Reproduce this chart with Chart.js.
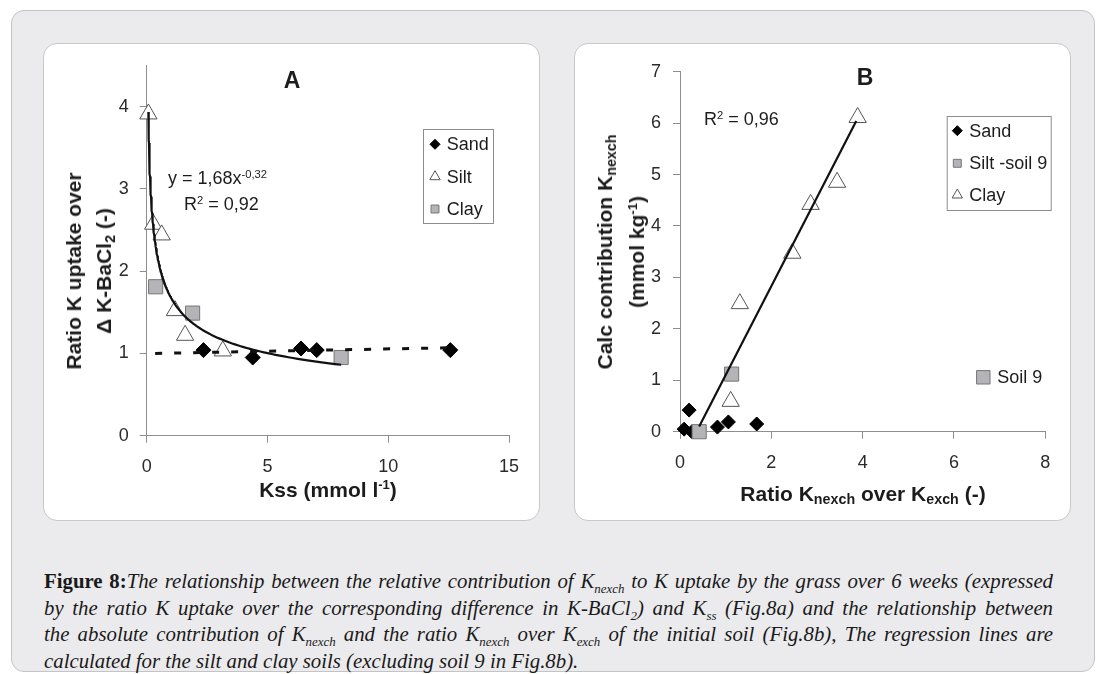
<!DOCTYPE html>
<html>
<head>
<meta charset="utf-8">
<script src="https://cdn.jsdelivr.net/npm/chart.js@4.4.1/dist/chart.umd.min.js"></script>
<style>
  html, body { margin: 0; padding: 0; background: #fff; }
  body { width: 1096px; height: 674px; position: relative; overflow: hidden;
         font-family: "Liberation Sans", Arial, sans-serif; color: #1c1c1c; }
  #card { position: absolute; left: 11px; top: 10px; width: 1084px; height: 662px; background: #ebebed;
          border: 1.5px solid #c4c4c6; border-radius: 13px; box-sizing: border-box; }
  .box { position: absolute; top: 43px; width: 497px; height: 478px; background: #fff;
         border: 1px solid #c8c8ca; border-radius: 14px; box-sizing: border-box; }
  #boxA { left: 43px; }
  #boxB { left: 574px; }
  canvas { position: absolute; top: 43px; }
  #chartA { left: 43px; }
  #chartB { left: 574px; }
  .t { position: absolute; white-space: nowrap; line-height: 1; transform: translate(-50%, -50%); }
  .tl { position: absolute; white-space: nowrap; line-height: 1; transform: translateY(-50%); font-size: 18px; }
  .title { font-weight: bold; font-size: 23px; }
  .xtitle { font-weight: bold; font-size: 21px; }
  .ytitle { position: absolute; white-space: nowrap; text-align: center; font-weight: bold; font-size: 21px;
            transform: translate(-50%, -50%) rotate(-90deg); }
  sup.s { font-size: 0.62em; vertical-align: 0.55em; line-height: 0; }
  sub.s { font-size: 0.68em; vertical-align: -0.25em; line-height: 0; }
  #caption { position: absolute; left: 44px; top: 568px; width: 1009px; color: #1a1a1a;
             font-family: "Liberation Serif", serif; font-style: italic; font-size: 20.8px; }
  #caption .cl { height: 26.7px; line-height: 26.7px; white-space: nowrap; text-align: justify; text-align-last: justify; }
  #caption .cl.last { text-align-last: left; }
  #caption b { font-style: normal; }
  #caption sub { font-size: 0.62em; vertical-align: -0.4em; line-height: 0; }
</style>
</head>
<body>
<div id="card"></div>
<div class="box" id="boxA"></div>
<div class="box" id="boxB"></div>
<canvas id="chartA" width="497" height="478"></canvas>
<canvas id="chartB" width="497" height="478"></canvas>

<!-- panel A text -->
<div class="t title" style="left:292px; top:80px;">A</div>
<div class="tl" style="left:168px; top:178px;">y = 1,68x<sup class="s">-0,32</sup></div>
<div class="tl" style="left:184px; top:204px;">R<sup class="s">2</sup> = 0,92</div>
<div class="t xtitle" style="left:328px; top:489px;">Kss (mmol l<sup class="s">-1</sup>)</div>
<div class="ytitle" style="left:89px; top:271px; line-height:30px;">Ratio K uptake over<br>Δ K-BaCl<sub class="s">2</sub> (-)</div>

<!-- panel B text -->
<div class="t title" style="left:865px; top:77px;">B</div>
<div class="tl" style="left:704px; top:119px;">R<sup class="s">2</sup> = 0,96</div>
<div class="t xtitle" style="left:863px; top:493px;">Ratio K<sub class="s">nexch</sub> over K<sub class="s">exch</sub> (-)</div>
<div class="ytitle" style="left:621px; top:252px; line-height:32px;">Calc contribution K<sub class="s">nexch</sub><br>(mmol kg<sup class="s">-1</sup>)</div>

<div id="caption">
  <div class="cl"><b>Figure 8:</b>The relationship between the relative contribution of K<sub>nexch</sub> to K uptake by the grass over 6 weeks (expressed</div>
  <div class="cl">by the ratio K uptake over the corresponding difference in K-BaCl<sub>2</sub>) and K<sub>ss</sub> (Fig.8a) and the relationship between</div>
  <div class="cl">the absolute contribution of K<sub>nexch</sub> and the ratio K<sub>nexch</sub> over K<sub>exch</sub> of the initial soil (Fig.8b), The regression lines are</div>
  <div class="cl last">calculated for the silt and clay soils (excluding soil 9 in Fig.8b).</div>
</div>

<script>
// ---- Panel A: Kss (mmol/l) vs ratio K uptake over delta K-BaCl2 ----
const sandKss   = [2.35, 4.39, 6.39, 7.04, 12.57];
const sandRatio = [1.04, 0.95, 1.06, 1.04, 1.04];
const siltKss   = [0.07, 0.27, 0.62, 1.17, 1.59, 3.15];
const siltRatio = [3.91, 2.57, 2.44, 1.52, 1.22, 1.03];
const clayKss   = [0.37, 1.90, 8.05];
const clayRatio = [1.81, 1.49, 0.95];
// power trendline y = 1,68x^-0,32 (silt + clay)
const powerCoef = 1.68;
const powerExp = -0.32;
// linear trend through the sand soils (dashed)
const sandTrendKss   = [0.35, 12.7];
const sandTrendRatio = [1.00, 1.07];
const ticksKss   = [0, 5, 10, 15];
const ticksRatio = [0, 1, 2, 3, 4];

// ---- Panel B: ratio Knexch/Kexch vs calculated Knexch contribution ----
const sandRatioB   = [0.09, 0.20, 0.26, 0.82, 1.06, 1.68];
const sandContrib  = [0.05, 0.42, 0.00, 0.09, 0.19, 0.15];
const siltRatioB   = [0.42, 1.13];
const siltContrib  = [0.00, 1.12];
const clayRatioB   = [3.89, 3.44, 2.86, 2.46, 1.31, 1.11];
const clayContrib  = [6.11, 4.85, 4.42, 3.47, 2.49, 0.59];
const regRatioB    = [0.42, 3.86];
const regContrib   = [0.10, 6.04];
const ticksRatioB  = [0, 2, 4, 6, 8];
const ticksContrib = [0, 1, 2, 3, 4, 5, 6, 7];

const pts = (xs, ys) => xs.map((x, i) => ({ x, y: ys[i] }));

const powerFrom = Math.min(...siltKss, ...clayKss);
const powerTo = Math.max(...siltKss, ...clayKss);
const powerCurve = [];
for (let i = 0; i <= 150; i++) {
  const x = powerFrom * Math.pow(powerTo / powerFrom, i / 150);
  powerCurve.push({ x, y: powerCoef * Math.pow(x, powerExp) });
}

const FONT = '"Liberation Sans", Arial, sans-serif';
const axisGray = '#8e8e8e';

const styles = {
  sand: { pointStyle: 'rectRot', fill: '#000', stroke: '#000' },
  silt: { pointStyle: 'triangle', fill: '#fff', stroke: '#555' },
  clay: { pointStyle: 'rect', fill: '#b4b4b8', stroke: '#767676' }
};

function marker(label, data, st, r) {
  return { label, data, pointStyle: st.pointStyle, pointRadius: r, backgroundColor: st.fill,
           borderColor: st.stroke, borderWidth: 1, showLine: false, clip: false };
}

function trend(data, width, dash) {
  return { data, showLine: true, pointRadius: 0, borderColor: '#111', borderWidth: width,
           borderDash: dash || [], fill: false, tension: 0, clip: false };
}

function axis(tickValues, pad, fit) {
  return {
    type: 'linear',
    min: tickValues[0],
    max: tickValues[tickValues.length - 1],
    ticks: { stepSize: tickValues[1] - tickValues[0], padding: pad, color: '#2b2b2b', maxRotation: 0,
             font: { family: FONT, size: 18 } },
    grid: { drawOnChartArea: false, drawTicks: true, tickLength: 7, color: axisGray, tickColor: axisGray },
    border: { display: true, color: axisGray, width: 1 },
    afterBuildTicks: a => { a.ticks = tickValues.map(v => ({ value: v })); },
    afterFit: fit
  };
}

// small marker legend drawn inside the plot
function drawMark(ctx, style, r, x, y) {
  ctx.save();
  ctx.fillStyle = style.fill;
  ctx.strokeStyle = style.stroke;
  ctx.lineWidth = 1;
  ctx.beginPath();
  if (style.pointStyle === 'rectRot') {
    ctx.moveTo(x - r, y); ctx.lineTo(x, y - r); ctx.lineTo(x + r, y); ctx.lineTo(x, y + r);
  } else if (style.pointStyle === 'triangle') {
    ctx.moveTo(x, y - r); ctx.lineTo(x + r * 0.866, y + r / 2); ctx.lineTo(x - r * 0.866, y + r / 2);
  } else {
    const s = r * Math.SQRT1_2;
    ctx.rect(x - s, y - s, 2 * s, 2 * s);
  }
  ctx.closePath();
  ctx.fill();
  ctx.stroke();
  ctx.restore();
}

const boxLegend = {
  id: 'boxLegend',
  afterDraw(chart, args, opts) {
    const ctx = chart.ctx;
    ctx.save();
    if (opts.box) {
      const [x, y, w, h] = opts.box;
      ctx.strokeStyle = '#8c8c8c';
      ctx.lineWidth = 1;
      ctx.strokeRect(x + 0.5, y + 0.5, w, h);
    }
    ctx.font = '18px ' + FONT;
    ctx.fillStyle = '#1c1c1c';
    ctx.textBaseline = 'middle';
    ctx.textAlign = 'left';
    (opts.items || []).forEach(it => {
      drawMark(ctx, it.style, it.r, it.mx, it.y);
      ctx.fillText(it.text, it.tx, it.y + 1);
    });
    ctx.restore();
  }
};

function baseOptions(padding, xAxis, yAxis, legendOpts) {
  return {
    responsive: false,
    animation: false,
    events: [],
    layout: { padding },
    scales: { x: xAxis, y: yAxis },
    plugins: { legend: { display: false }, tooltip: { enabled: false }, boxLegend: legendOpts }
  };
}

// chart A: y axis runs to 4.5 but is only labelled 0..4
const yAxisA = axis(ticksRatio, 11, s => { s.width = 70; });
yAxisA.max = 4.5;

new Chart(document.getElementById('chartA'), {
  type: 'scatter',
  data: {
    datasets: [
      trend(powerCurve, 2.2),
      trend(pts(sandTrendKss, sandTrendRatio), 3, [7, 12]),
      marker('Clay', pts(clayKss, clayRatio), styles.clay, 10),
      marker('Silt', pts(siltKss, siltRatio), styles.silt, 10),
      marker('Sand', pts(sandKss, sandRatio), styles.sand, 7.5)
    ]
  },
  options: baseOptions(
    { left: 33.7, right: 31, top: 22.4, bottom: 35.3 },
    axis(ticksKss, 14, s => { s.height = 50; }),
    yAxisA,
    {
      box: [380, 86, 70, 94],
      items: [
        { text: 'Sand', style: styles.sand, r: 5, mx: 392, tx: 403.7, y: 101.3 },
        { text: 'Silt', style: styles.silt, r: 6, mx: 392, tx: 403.7, y: 133.7 },
        { text: 'Clay', style: styles.clay, r: 5.6, mx: 392, tx: 403.7, y: 166 }
      ]
    }
  ),
  plugins: [boxLegend]
});

// chart B
new Chart(document.getElementById('chartB'), {
  type: 'scatter',
  data: {
    datasets: [
      trend(pts(regRatioB, regContrib), 2.2),
      marker('Clay', pts(clayRatioB, clayContrib), styles.silt, 10),
      marker('Silt -soil 9', pts(siltRatioB, siltContrib), styles.clay, 10),
      marker('Sand', pts(sandRatioB, sandContrib), styles.sand, 7)
    ]
  },
  options: baseOptions(
    { left: 36, right: 25.7, top: 28.7, bottom: 39.3 },
    axis(ticksRatioB, 14, s => { s.height = 50; }),
    axis(ticksContrib, 12, s => { s.width = 70; }),
    {
      box: [372.7, 73, 104, 94],
      items: [
        { text: 'Sand', style: styles.sand, r: 5, mx: 383.3, tx: 395.3, y: 87.7 },
        { text: 'Silt -soil 9', style: styles.clay, r: 5.6, mx: 383.3, tx: 395.3, y: 120.3 },
        { text: 'Clay', style: styles.silt, r: 6, mx: 383.3, tx: 395.3, y: 152 },
        { text: 'Soil 9', style: styles.clay, r: 9.5, mx: 409.3, tx: 423.3, y: 334.3 }
      ]
    }
  ),
  plugins: [boxLegend]
});
</script>
</body>
</html>
